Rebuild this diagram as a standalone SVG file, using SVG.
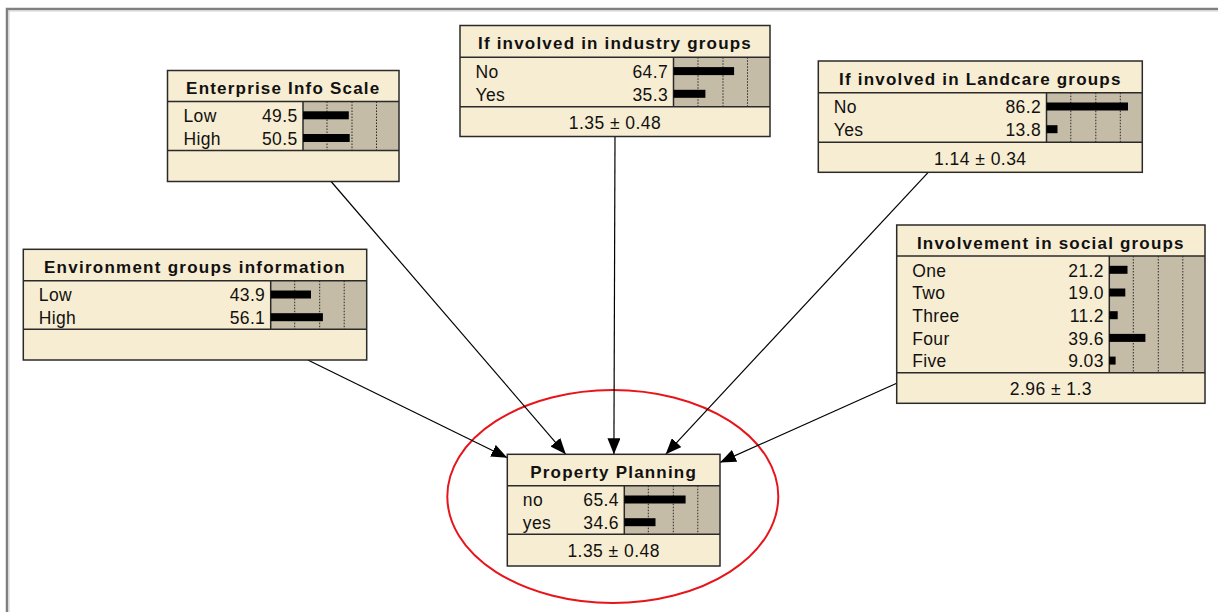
<svg xmlns="http://www.w3.org/2000/svg" width="1218" height="612" viewBox="0 0 1218 612">
  <style>
    .box { fill: #F7EDD2; }
    .outline { fill: none; stroke: #2a2a2a; stroke-width: 1.5; }
    .rule { stroke: #2a2a2a; stroke-width: 1.5; }
    .barbg { fill: #C5BCA8; }
    .dot { stroke: #2a2a2a; stroke-width: 1; stroke-dasharray: 1.5 1.5; }
    .bar { fill: #000; }
    text { font-family: "Liberation Sans", Arial, sans-serif; font-size: 17.5px; fill: #111; }
    .title { font-size: 17px; font-weight: bold; letter-spacing: 1.2px; text-anchor: middle; }
    .lbl { letter-spacing: 0.35px; }
    .num { letter-spacing: 0.35px; text-anchor: end; }
    .foot { letter-spacing: 0.45px; text-anchor: middle; }
    .edge { stroke: #000; stroke-width: 1.2; fill: none; marker-end: url(#arrow); }
  </style>
  <defs>
    <marker id="arrow" markerUnits="userSpaceOnUse" markerWidth="16" markerHeight="13" refX="16" refY="6.5" orient="auto">
      <path d="M0,0 L16,6.5 L0,13 z" fill="#000"/>
    </marker>
  </defs>

  <rect width="1218" height="612" fill="#fff"/>

  <!-- window frame -->
  <g id="frame">
    <path d="M7,612 V9 H1218" fill="none" stroke="#808080" stroke-width="2.5"/>
    <path d="M9,612 V11 H1218" fill="none" stroke="#d0d0d0" stroke-width="1"/>
  </g>

  <!-- highlight around the target node -->
  <ellipse id="highlight" cx="612.8" cy="496.5" rx="165.5" ry="106.5" fill="none" stroke="#e8141a" stroke-width="2"/>

  <!-- connectors -->
  <g id="connectors">
    <line class="edge" x1="331.1" y1="181.5" x2="565.8" y2="454.3"/>
    <line class="edge" x1="615" y1="136.5" x2="613.9" y2="454.3"/>
    <line class="edge" x1="928.2" y1="172.3" x2="665.7" y2="454.3"/>
    <line class="edge" x1="307.8" y1="360" x2="507.3" y2="457.8"/>
    <line class="edge" x1="896.7" y1="383.3" x2="720" y2="462.4"/>
  </g>

  <!-- Enterprise Info Scale -->
  <g id="enterprise-info-scale">
    <rect class="box" x="167.5" y="70.5" width="231.5" height="111"/>
    <rect class="barbg" x="303" y="101.5" width="96" height="49"/>
    <line class="dot" x1="327" y1="101.5" x2="327" y2="150.5"/>
    <line class="dot" x1="352" y1="101.5" x2="352" y2="150.5"/>
    <line class="dot" x1="376.5" y1="101.5" x2="376.5" y2="150.5"/>
    <line class="rule" x1="303" y1="101.5" x2="303" y2="150.5"/>
    <line class="rule" x1="167.5" y1="101.5" x2="399" y2="101.5"/>
    <line class="rule" x1="167.5" y1="150.5" x2="399" y2="150.5"/>
    <rect class="outline" x="167.5" y="70.5" width="231.5" height="111"/>
    <text class="title" x="283.25" y="94">Enterprise Info Scale</text>
    <text class="lbl" x="183.5" y="122">Low</text>
    <text class="num" x="297.5" y="122">49.5</text>
    <rect class="bar" x="303" y="111.3" width="45.8" height="8"/>
    <text class="lbl" x="183.5" y="144.7">High</text>
    <text class="num" x="297.5" y="144.7">50.5</text>
    <rect class="bar" x="303" y="134" width="46.7" height="8"/>
  </g>

  <!-- If involved in industry groups -->
  <g id="industry-groups">
    <rect class="box" x="460" y="25.5" width="310" height="111"/>
    <rect class="barbg" x="673.5" y="57.3" width="96.5" height="49.4"/>
    <line class="dot" x1="698" y1="57.3" x2="698" y2="106.7"/>
    <line class="dot" x1="723" y1="57.3" x2="723" y2="106.7"/>
    <line class="dot" x1="747.5" y1="57.3" x2="747.5" y2="106.7"/>
    <line class="rule" x1="673.5" y1="57.3" x2="673.5" y2="106.7"/>
    <line class="rule" x1="460" y1="57.3" x2="770" y2="57.3"/>
    <line class="rule" x1="460" y1="106.7" x2="770" y2="106.7"/>
    <rect class="outline" x="460" y="25.5" width="310" height="111"/>
    <text class="title" x="615" y="49">If involved in industry groups</text>
    <text class="lbl" x="475.5" y="77.8">No</text>
    <text class="num" x="668" y="77.8">64.7</text>
    <rect class="bar" x="673.5" y="67.1" width="60.6" height="8"/>
    <text class="lbl" x="475.5" y="100.5">Yes</text>
    <text class="num" x="668" y="100.5">35.3</text>
    <rect class="bar" x="673.5" y="89.8" width="31.9" height="8"/>
    <text class="foot" x="615" y="129.4">1.35 ± 0.48</text>
  </g>

  <!-- If involved in Landcare groups -->
  <g id="landcare-groups">
    <rect class="box" x="818.3" y="61" width="324" height="111.3"/>
    <rect class="barbg" x="1046.5" y="92.7" width="95.8" height="49.6"/>
    <line class="dot" x1="1070.8" y1="92.7" x2="1070.8" y2="142.3"/>
    <line class="dot" x1="1095.8" y1="92.7" x2="1095.8" y2="142.3"/>
    <line class="dot" x1="1120.3" y1="92.7" x2="1120.3" y2="142.3"/>
    <line class="rule" x1="1046.5" y1="92.7" x2="1046.5" y2="142.3"/>
    <line class="rule" x1="818.3" y1="92.7" x2="1142.3" y2="92.7"/>
    <line class="rule" x1="818.3" y1="142.3" x2="1142.3" y2="142.3"/>
    <rect class="outline" x="818.3" y="61" width="324" height="111.3"/>
    <text class="title" x="980.3" y="84.5">If involved in Landcare groups</text>
    <text class="lbl" x="833.8" y="113.2">No</text>
    <text class="num" x="1041" y="113.2">86.2</text>
    <rect class="bar" x="1046.5" y="102.5" width="81.5" height="8"/>
    <text class="lbl" x="833.8" y="135.9">Yes</text>
    <text class="num" x="1041" y="135.9">13.8</text>
    <rect class="bar" x="1046.5" y="125.2" width="11" height="8"/>
    <text class="foot" x="980.3" y="165">1.14 ± 0.34</text>
  </g>

  <!-- Environment groups information -->
  <g id="environment-groups">
    <rect class="box" x="23.3" y="249.3" width="343.4" height="110.7"/>
    <rect class="barbg" x="270.7" y="280.7" width="96" height="48.6"/>
    <line class="dot" x1="294.7" y1="280.7" x2="294.7" y2="329.3"/>
    <line class="dot" x1="319.7" y1="280.7" x2="319.7" y2="329.3"/>
    <line class="dot" x1="344.2" y1="280.7" x2="344.2" y2="329.3"/>
    <line class="rule" x1="270.7" y1="280.7" x2="270.7" y2="329.3"/>
    <line class="rule" x1="23.3" y1="280.7" x2="366.7" y2="280.7"/>
    <line class="rule" x1="23.3" y1="329.3" x2="366.7" y2="329.3"/>
    <rect class="outline" x="23.3" y="249.3" width="343.4" height="110.7"/>
    <text class="title" x="195" y="272.8" style="letter-spacing:1.25px">Environment groups information</text>
    <text class="lbl" x="38.8" y="301.2">Low</text>
    <text class="num" x="265.2" y="301.2">43.9</text>
    <rect class="bar" x="270.7" y="290.5" width="40.3" height="8"/>
    <text class="lbl" x="38.8" y="323.9">High</text>
    <text class="num" x="265.2" y="323.9">56.1</text>
    <rect class="bar" x="270.7" y="313.2" width="52.2" height="8"/>
  </g>

  <!-- Involvement in social groups -->
  <g id="social-groups">
    <rect class="box" x="896.7" y="225" width="308.3" height="178.3"/>
    <rect class="barbg" x="1109.3" y="256" width="95.7" height="116.7"/>
    <line class="dot" x1="1133.3" y1="256" x2="1133.3" y2="372.7"/>
    <line class="dot" x1="1158.3" y1="256" x2="1158.3" y2="372.7"/>
    <line class="dot" x1="1182.8" y1="256" x2="1182.8" y2="372.7"/>
    <line class="rule" x1="1109.3" y1="256" x2="1109.3" y2="372.7"/>
    <line class="rule" x1="896.7" y1="256" x2="1205" y2="256"/>
    <line class="rule" x1="896.7" y1="372.7" x2="1205" y2="372.7"/>
    <rect class="outline" x="896.7" y="225" width="308.3" height="178.3"/>
    <text class="title" x="1050.85" y="248.5">Involvement in social groups</text>
    <text class="lbl" x="912.2" y="276.5">One</text>
    <text class="num" x="1103.8" y="276.5">21.2</text>
    <rect class="bar" x="1109.3" y="265.8" width="18.2" height="8"/>
    <text class="lbl" x="912.2" y="299.2">Two</text>
    <text class="num" x="1103.8" y="299.2">19.0</text>
    <rect class="bar" x="1109.3" y="288.5" width="16" height="8"/>
    <text class="lbl" x="912.2" y="321.9">Three</text>
    <text class="num" x="1103.8" y="321.9">11.2</text>
    <rect class="bar" x="1109.3" y="311.2" width="8.4" height="8"/>
    <text class="lbl" x="912.2" y="344.6">Four</text>
    <text class="num" x="1103.8" y="344.6">39.6</text>
    <rect class="bar" x="1109.3" y="333.9" width="36.1" height="8"/>
    <text class="lbl" x="912.2" y="367.3">Five</text>
    <text class="num" x="1103.8" y="367.3">9.03</text>
    <rect class="bar" x="1109.3" y="356.6" width="6.3" height="8"/>
    <text class="foot" x="1050.85" y="395.4">2.96 ± 1.3</text>
  </g>

  <!-- Property Planning -->
  <g id="property-planning">
    <rect class="box" x="507.3" y="454.3" width="212.7" height="111.7"/>
    <rect class="barbg" x="624.3" y="485.7" width="95.7" height="48.6"/>
    <line class="dot" x1="648.3" y1="485.7" x2="648.3" y2="534.3"/>
    <line class="dot" x1="673.3" y1="485.7" x2="673.3" y2="534.3"/>
    <line class="dot" x1="697.8" y1="485.7" x2="697.8" y2="534.3"/>
    <line class="rule" x1="624.3" y1="485.7" x2="624.3" y2="534.3"/>
    <line class="rule" x1="507.3" y1="485.7" x2="720" y2="485.7"/>
    <line class="rule" x1="507.3" y1="534.3" x2="720" y2="534.3"/>
    <rect class="outline" x="507.3" y="454.3" width="212.7" height="111.7"/>
    <text class="title" x="613.65" y="478">Property Planning</text>
    <text class="lbl" x="522.8" y="506.2">no</text>
    <text class="num" x="618.8" y="506.2">65.4</text>
    <rect class="bar" x="624.3" y="495.5" width="61.3" height="8"/>
    <text class="lbl" x="522.8" y="528.9">yes</text>
    <text class="num" x="618.8" y="528.9">34.6</text>
    <rect class="bar" x="624.3" y="518.2" width="31.2" height="8"/>
    <text class="foot" x="613.65" y="557">1.35 ± 0.48</text>
  </g>
</svg>
